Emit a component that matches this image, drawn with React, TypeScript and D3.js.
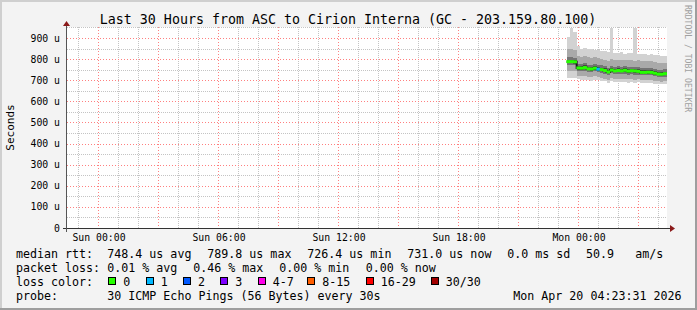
import React from "react";
import * as d3 from "d3";

// ---- data (minutes relative to Mon 00:00, 10-minute steps) ----
const stepStart = [-34, -24, -14, -4, 6, 16, 26, 36, 46, 56, 66, 76, 86, 96, 106, 116, 126, 136, 146, 156, 166, 176, 186, 196, 206, 216, 226, 236, 246, 256];
const medianRtt = [788, 788, 787, 758, 757, 760, 754, 753, 757, 752, 750, 746, 739, 748, 744, 746, 744, 747, 743, 745, 744, 742, 737, 737, 738, 737, 733, 729, 728, 731];
const lossCount = [0, 0, 0, 0, 0, 0, 0, 0, 0, 1, 0, 0, 0, 0, 0, 0, 0, 0, 0, 0, 0, 0, 0, 0, 0, 0, 0, 0, 0, 0];
const pingMax = [905, 945, 930, 862, 850, 852, 848, 850, 845, 842, 838, 836, 834, 948, 830, 828, 832, 826, 830, 828, 948, 826, 822, 824, 820, 822, 818, 820, 815, 816];
const ping90 = [850, 848, 845, 815, 812, 814, 808, 806, 810, 805, 802, 798, 792, 800, 796, 797, 796, 797, 794, 795, 793, 794, 790, 789, 790, 789, 786, 782, 780, 783];
const ping75 = [808, 808, 806, 778, 777, 780, 774, 773, 777, 772, 770, 766, 760, 768, 764, 765, 764, 765, 762, 763, 761, 762, 758, 758, 759, 758, 755, 750, 748, 751];
const ping25 = [772, 772, 770, 743, 742, 745, 739, 738, 742, 737, 735, 731, 725, 733, 729, 730, 729, 730, 727, 728, 726, 727, 723, 723, 724, 723, 720, 716, 714, 717];
const ping10 = [745, 745, 742, 722, 720, 722, 716, 714, 718, 714, 712, 708, 702, 710, 706, 707, 706, 706, 704, 705, 703, 704, 700, 700, 701, 700, 698, 695, 693, 696];
const pingMin = [710, 712, 712, 704, 700, 703, 700, 698, 700, 699, 697, 694, 688, 694, 690, 692, 690, 691, 689, 690, 688, 690, 687, 686, 688, 686, 684, 683, 682, 684];
const STEP = 10;

const xTickMinutes = [-1440, -1080, -720, -360, 0];
const xTickLabels = ["Sun 00:00", "Sun 06:00", "Sun 12:00", "Sun 18:00", "Mon 00:00"];
const yTickValues = [0, 100, 200, 300, 400, 500, 600, 700, 800, 900];
const yTickLabels = ["0", "100 u", "200 u", "300 u", "400 u", "500 u", "600 u", "700 u", "800 u", "900 u"];

const titleText = "Last 30 Hours from ASC to Cirion Interna (GC - 203.159.80.100)";
const rttStats = ["748.4 us avg", "789.8 us max", "726.4 us min", "731.0 us now", "0.0 ms sd", "50.9", "am/s"];
const lossStats = ["0.01 % avg", "0.46 % max", "0.00 % min", "0.00 % now"];
const lossLabels = ["0", "1", "2", "3", "4-7", "8-15", "16-29", "30/30"];
const lossColors = ["#26ff00", "#00b8ff", "#0059ff", "#7e00ff", "#ff00ea", "#ff5e00", "#ff0000", "#a10000"];
const probeText = "30 ICMP Echo Pings (56 Bytes) every 30s";
const dateText = "Mon Apr 20 04:23:31 2026";

const W = 697;
const H = 310;
const FONT = "'DejaVu Sans Mono', monospace";

export default function App() {
  const x = d3.scaleLinear().domain([-1533, 267]).range([67, 667]);
  const y = d3.scaleLinear().domain([0, 952]).range([228, 27]);
  const left = 67, right = 667, top = 27, bottom = 228;

  const minorV = d3.range(-1500, 267, 60).filter((m) => x(m) > left && x(m) < right && ((m % 180) + 180) % 180 !== 0);
  const majorV = d3.range(-1620, 267, 180).filter((m) => x(m) > left && x(m) < right);
  const minorH = d3.range(50, 1000, 100).filter((v) => y(v) >= top);
  const majorH = d3.range(100, 1000, 100).filter((v) => y(v) >= top);

  const bands: { lo: number[]; hi: number[]; color: string }[] = [
    { lo: pingMin, hi: pingMax, color: "#d2d2d2" },
    { lo: ping10, hi: ping90, color: "#a9a9a9" },
    { lo: ping25, hi: ping75, color: "#747474" },
  ];

  const medPts: [number, number][] = stepStart.map((t, i) => [t, medianRtt[i]]);
  medPts.push([stepStart[stepStart.length - 1] + STEP, medianRtt[medianRtt.length - 1]]);
  const medLine = d3
    .line<[number, number]>()
    .x((d) => x(d[0]))
    .y((d) => y(d[1]))
    .curve(d3.curveStepAfter)(medPts) as string;

  const lossColorIndex = (n: number) => (n === 0 ? 0 : n === 1 ? 1 : n === 2 ? 2 : n === 3 ? 3 : n <= 7 ? 4 : n <= 15 ? 5 : n <= 29 ? 6 : 7);

  const rttX = [107.3, 207.3, 307.3, 407.3, 507.3, 586, 635.3];
  const lossX = [107.3, 193.3, 279.3, 365.7];
  const boxX = [108.3, 145.7, 183, 220.3, 257.7, 307.3, 365.7, 430.7];
  const rows = [257.5, 271.7, 285.8, 300];

  const vLine = (m: number) => Math.round(x(m)) + 0.5;
  const hLine = (v: number) => Math.round(y(v)) + 0.5;

  return (
    <svg width={W} height={H} style={{ position: "absolute", left: 0, top: 0 }} fontFamily={FONT}>
      <rect x={0} y={0} width={W} height={H} fill="#f3f3f3" />
      {/* frame */}
      <rect x={0} y={0} width={W} height={2} fill="#cfcfcf" />
      <rect x={0} y={0} width={2} height={H} fill="#cfcfcf" />
      <rect x={0} y={H - 2} width={W} height={2} fill="#9e9e9e" />
      <rect x={W - 2} y={0} width={2} height={H} fill="#9e9e9e" />

      {/* canvas */}
      <rect x={left} y={top} width={right - left} height={bottom - top} fill="#ffffff" />

      {/* grid */}
      <g>
        {minorV.map((m) => (
          <line key={"mv" + m} x1={vLine(m)} x2={vLine(m)} y1={top} y2={bottom} stroke="#c4c4c4" strokeWidth={1} strokeDasharray="1 1" />
        ))}
        {minorH.map((v) => (
          <line key={"mh" + v} x1={left} x2={right} y1={hLine(v)} y2={hLine(v)} stroke="#c4c4c4" strokeWidth={1} strokeDasharray="1 1" />
        ))}
        {majorV.map((m) => (
          <line key={"Mv" + m} x1={vLine(m)} x2={vLine(m)} y1={top} y2={bottom} stroke="#ff8080" strokeWidth={1} strokeDasharray="1 2" />
        ))}
        {majorH.map((v) => (
          <line key={"Mh" + v} x1={left} x2={right} y1={hLine(v)} y2={hLine(v)} stroke="#ff8080" strokeWidth={1} strokeDasharray="1 2" />
        ))}
      </g>

      {/* smoke */}
      <g shapeRendering="crispEdges">
        {bands.map((b, bi) =>
          stepStart.map((t, i) => (
            <rect
              key={"b" + bi + "-" + i}
              x={x(t)}
              width={x(t + STEP) - x(t)}
              y={y(b.hi[i])}
              height={y(b.lo[i]) - y(b.hi[i])}
              fill={b.color}
            />
          ))
        )}
        {stepStart.map((t, i) => {
          const hi = medianRtt[i] + (ping75[i] - medianRtt[i]) * 0.5;
          const lo = medianRtt[i] - (medianRtt[i] - ping25[i]) * 0.5;
          return <rect key={"c" + i} x={x(t)} width={x(t + STEP) - x(t)} y={y(hi)} height={y(lo) - y(hi)} fill="#444444" />;
        })}
      </g>

      {/* median */}
      <path d={medLine} fill="none" stroke="#1a1a1a" strokeWidth={2} />
      {stepStart.map((t, i) => (
        <line
          key={"m" + i}
          x1={x(t) - 0.3}
          x2={x(t + STEP) + 0.3}
          y1={y(medianRtt[i])}
          y2={y(medianRtt[i])}
          stroke={lossColors[lossColorIndex(lossCount[i])]}
          strokeWidth={3}
        />
      ))}

      {/* axes */}
      <g shapeRendering="crispEdges">
        <line x1={63} x2={670} y1={bottom + 0.5} y2={bottom + 0.5} stroke="#333" />
        <line x1={left - 0.5} x2={left - 0.5} y1={bottom + 4} y2={top - 3} stroke="#555" />
      </g>
      <path d={`M${670},${bottom - 3} L${675},${bottom + 0.5} L${670},${bottom + 4} Z`} fill="#8b1a1a" />
      <path d={`M${left - 4},${top - 1} L${left - 0.5},${top - 6} L${left + 3},${top - 1} Z`} fill="#8b1a1a" />

      {/* y tick labels */}
      {yTickValues.map((v, i) => (
        <text key={"yl" + v} x={60} y={y(v) + 3.6} fontSize={9.8} textAnchor="end" fill="#000">
          {yTickLabels[i]}
        </text>
      ))}
      {/* x tick labels */}
      {xTickMinutes.map((m, i) => (
        <text key={"xl" + m} x={x(m) + 1} y={241.3} fontSize={9.8} textAnchor="middle" fill="#000">
          {xTickLabels[i]}
        </text>
      ))}

      {/* title */}
      <text x={348} y={24} fontSize={13.3} textAnchor="middle" fill="#000">
        {titleText}
      </text>
      {/* vertical label */}
      <text transform={`translate(13.5,${(top + bottom) / 2}) rotate(-90)`} fontSize={11} textAnchor="middle" fill="#000">
        Seconds
      </text>
      <text transform={`translate(685,5) rotate(90)`} fontSize={8.1} fill="#a0a0a0">
        RRDTOOL / TOBI OETIKER
      </text>

      {/* legend */}
      <g fontSize={11.65} fill="#000">
        <text x={16} y={rows[0]}>median rtt:</text>
        {rttStats.map((s, i) => (
          <text key={"r" + i} x={rttX[i]} y={rows[0]}>{s}</text>
        ))}
        <text x={16} y={rows[1]}>packet loss:</text>
        {lossStats.map((s, i) => (
          <text key={"l" + i} x={lossX[i]} y={rows[1]}>{s}</text>
        ))}
        <text x={16} y={rows[2]}>loss color:</text>
        {lossLabels.map((s, i) => (
          <g key={"lc" + i}>
            <rect x={boxX[i] + 0.5} y={rows[2] - 8.3} width={7} height={7} fill={lossColors[i]} stroke="#000" strokeWidth={1} shapeRendering="crispEdges" />
            <text x={boxX[i] + 15} y={rows[2]}>{s}</text>
          </g>
        ))}
        <text x={16} y={rows[3]}>probe:</text>
        <text x={107.3} y={rows[3]}>{probeText}</text>
        <text x={513.3} y={rows[3]}>{dateText}</text>
      </g>
    </svg>
  );
}
